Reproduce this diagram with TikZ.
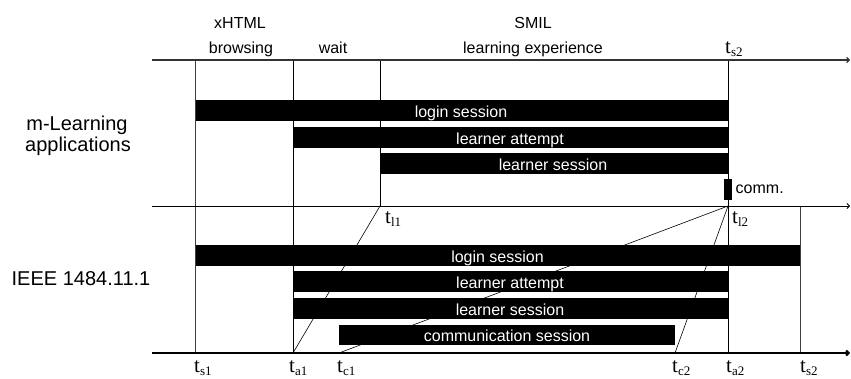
\documentclass[tikz,border=0pt]{standalone}
\usepackage{fontspec}
\setmainfont{Liberation Sans}
\newfontfamily\serifT{Liberation Serif}
\usetikzlibrary{arrows.meta}
% time-point mark: upright t with a lowered subscript
\newcommand\tmark[1]{{\serifT\fontsize{21}{21}\selectfont t\raisebox{-3.5pt}{\fontsize{13}{13}\selectfont #1}}}
\begin{document}
\begin{tikzpicture}[x=1pt,y=-1pt,
  bar/.style={fill=black},
  barlabel/.style={text=white,font=\fontsize{16}{16}\selectfont,anchor=base,inner sep=0pt},
  phase/.style={font=\fontsize{16}{16}\selectfont,anchor=base,inner sep=0pt},
  group/.style={font=\fontsize{20}{24}\selectfont,anchor=base,inner sep=0pt},
  tlabel/.style={anchor=base west,inner sep=0pt},
  axis/.style={-{Straight Barb[length=2.5pt,width=5pt]}},
  tick/.style={line width=0.8pt},
  thin tick/.style={line width=0.7pt,black!75}]
\useasboundingbox (0,0) rectangle (851,378);

% time points
\coordinate (L1) at (152,60);  \coordinate (R1) at (850,60);
\coordinate (L2) at (152,206); \coordinate (R2) at (850,206);
\coordinate (L3) at (152,353); \coordinate (R3) at (850,353);

\coordinate (ts1top) at (195,60);  \coordinate (ts1bot) at (195,353);
\coordinate (ta1top) at (293,60);  \coordinate (ta1bot) at (293,353);
\coordinate (tl1top) at (380,60);  \coordinate (tl1)    at (380,206);
\coordinate (ts2top) at (728,60);  \coordinate (tl2)    at (728,206);
\coordinate (ta2bot) at (728,353);
\coordinate (ts2mid) at (800,206); \coordinate (ts2bot) at (800,353);
\coordinate (tc1) at (339,353);    \coordinate (tc2) at (675,353);

% bars: m-Learning applications
\fill[bar] (195,100) rectangle (728,121);
\fill[bar] (293,127) rectangle (728,148);
\fill[bar] (380,153) rectangle (728,174);
\fill[bar] (724,179) rectangle (732,200);
% bars: IEEE 1484.11.1
\fill[bar] (195,245) rectangle (800,266);
\fill[bar] (293,271) rectangle (728,292);
\fill[bar] (293,298) rectangle (728,319);
\fill[bar] (339,325) rectangle (675,345);

% vertical time lines
\draw[thin tick] (ts1top) -- (ts1bot);
\draw[tick] (ta1top) -- (ta1bot);
\draw[tick] (tl1top) -- (tl1);
\draw[tick] (ts2top) -- (ta2bot);
\draw[thin tick] (ts2mid) -- (ts2bot);

% mappings between the two time axes
\draw[line width=0.6pt] (tl1) -- (ta1bot);
\draw[line width=0.6pt] (tl2) -- (tc1);
\draw[line width=0.6pt] (tl2) -- (tc2);

% time axes
\draw[axis,line width=1.2pt,black!80] (L1) -- (R1);
\draw[axis,line width=0.8pt] (L2) -- (R2);
\draw[axis,line width=2pt] (L3) -- (R3);

% phase headings
\node[phase] (xhtml) at (240,28.3) {xHTML};
\node[phase] (brows) at (241,53) {browsing};
\node[phase] (wait)  at (333,53) {wait};
\node[phase] (smil)  at (533,28.3) {SMIL};
\node[phase] (lexp)  at (533,53) {learning experience};

% group names
\node[group] (mlA) at (77,130) {m-Learning};
\node[group] (mlB) at (78,151.5) {applications};
\node[group] (ieee) at (81,285) {IEEE 1484.11.1};

% bar labels
\node[barlabel] (b1) at (461,117.5) {login session};
\node[barlabel] (b2) at (510,144.5) {learner attempt};
\node[barlabel] (b3) at (553,170.5) {learner session};
\node[phase,anchor=base west] (b4) at (735.5,193.5) {comm.};
\node[barlabel] (c1) at (497.5,262.5) {login session};
\node[barlabel] (c2) at (510,288.5) {learner attempt};
\node[barlabel] (c3) at (510,315.5) {learner session};
\node[barlabel] (c4) at (507,341.5) {communication session};

% time-point labels
\node[tlabel] (lts2top) at (725,53) {\tmark{s2}};
\node[tlabel] (ltl1) at (385,223) {\tmark{l1}};
\node[tlabel] (ltl2) at (732,223) {\tmark{l2}};
\node[tlabel] (lts1) at (194,372) {\tmark{s1}};
\node[tlabel] (lta1) at (289,372) {\tmark{a1}};
\node[tlabel] (ltc1) at (337,372) {\tmark{c1}};
\node[tlabel] (ltc2) at (672,372) {\tmark{c2}};
\node[tlabel] (lta2) at (726,372) {\tmark{a2}};
\node[tlabel] (lts2) at (800,372) {\tmark{s2}};
\end{tikzpicture}
\end{document}
